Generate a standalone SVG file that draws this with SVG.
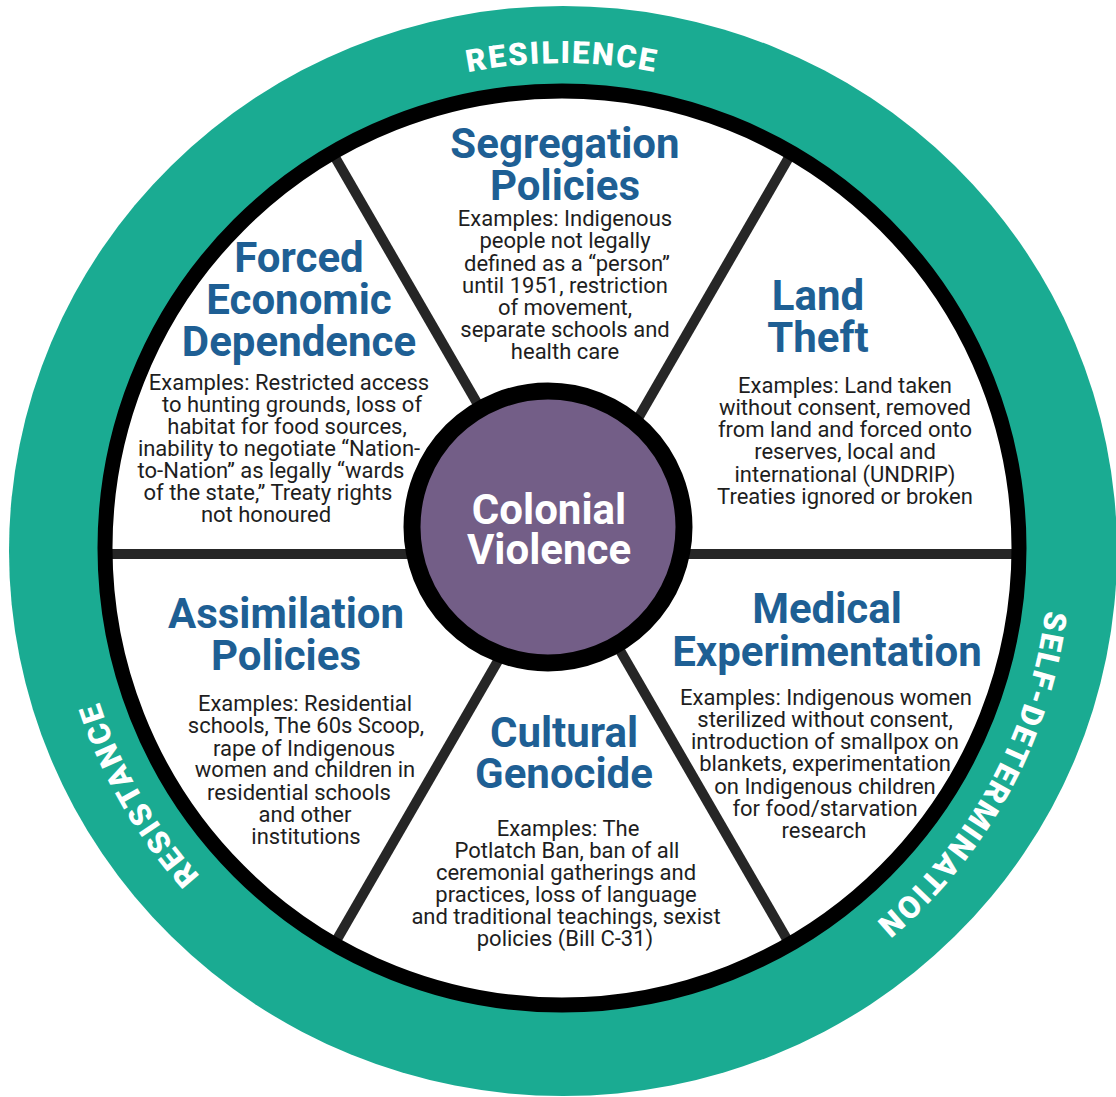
<svg xmlns="http://www.w3.org/2000/svg" width="1116" height="1097" viewBox="0 0 1116 1097">
<style>
.title{font-family:Roboto,"Liberation Sans",sans-serif;font-weight:700;font-size:42px;fill:#1e5f94;text-anchor:middle}
.body{font-family:Roboto,"Liberation Sans",sans-serif;font-weight:400;font-size:22px;fill:#1e1e1e;text-anchor:middle}
.ring{font-family:Roboto,"Liberation Sans",sans-serif;font-weight:900;font-size:31px;fill:#ffffff;letter-spacing:2px}
.center{font-family:Roboto,"Liberation Sans",sans-serif;font-weight:700;font-size:42px;fill:#ffffff;text-anchor:middle}
.spoke{stroke:#262626;stroke-width:10;fill:none}
</style>
<defs>
<path id="arcTop" d="M140.3,306.5 A487,487 0 0 1 983.7,306.5"/>
<path id="arcLeft" d="M562,1037 A487,487 0 0 1 140.3,306.5"/>
<path id="arcRight" d="M977.7,296.3 A487,487 0 0 1 573.9,1036.9"/>
</defs>
<rect width="1116" height="1097" fill="#ffffff"/>
<g id="outer-ring">
<ellipse cx="563" cy="551" rx="554" ry="545" fill="#1aab92"/>
<text class="ring"><textPath href="#arcTop" startOffset="50%" text-anchor="middle">RESILIENCE</textPath></text>
<text class="ring"><textPath href="#arcLeft" startOffset="50%" text-anchor="middle">RESISTANCE</textPath></text>
<text class="ring"><textPath href="#arcRight" startOffset="50%" text-anchor="middle">SELF-DETERMINATION</textPath></text>
</g>
<g id="wheel">
<circle cx="562" cy="548" r="457" fill="#ffffff"/>
</g>
<g id="connectors">
<line class="spoke" x1="102" y1="554" x2="1022" y2="554"/>
<line class="spoke" x1="332" y1="152" x2="562" y2="550"/>
<line class="spoke" x1="792" y1="152" x2="562" y2="550"/>
<line class="spoke" x1="332" y1="948" x2="562" y2="550"/>
<line class="spoke" x1="792" y1="948" x2="562" y2="550"/>
</g>
<circle cx="562" cy="548" r="457" fill="none" stroke="#000000" stroke-width="15"/>
<g id="segregation">
<text class="title"><tspan x="565" y="158">Segregation</tspan><tspan x="565" y="200">Policies</tspan></text>
<text class="body"><tspan x="565" y="226">Examples: Indigenous</tspan><tspan x="565" y="248">people not legally</tspan><tspan x="567" y="271">defined as a “person”</tspan><tspan x="565" y="293">until 1951, restriction</tspan><tspan x="565" y="315">of movement,</tspan><tspan x="565" y="337">separate schools and</tspan><tspan x="565" y="359">health care</tspan></text>
</g>
<g id="forced-economic-dependence">
<text class="title"><tspan x="299" y="272">Forced</tspan><tspan x="299" y="314">Economic</tspan><tspan x="299" y="356">Dependence</tspan></text>
<text class="body"><tspan x="289" y="390">Examples: Restricted access</tspan><tspan x="292" y="412">to hunting grounds, loss of</tspan><tspan x="287" y="434">habitat for food sources,</tspan><tspan x="279" y="456">inability to negotiate “Nation-</tspan><tspan x="271" y="478">to-Nation” as legally “wards</tspan><tspan x="268" y="500">of the state,” Treaty rights</tspan><tspan x="266" y="522">not honoured</tspan></text>
</g>
<g id="land-theft">
<text class="title"><tspan x="818" y="310">Land</tspan><tspan x="818" y="352">Theft</tspan></text>
<text class="body"><tspan x="845" y="393">Examples: Land taken</tspan><tspan x="845" y="415">without consent, removed</tspan><tspan x="845" y="437">from land and forced onto</tspan><tspan x="845" y="459">reserves, local and</tspan><tspan x="845" y="482">international (UNDRIP)</tspan><tspan x="845" y="504">Treaties ignored or broken</tspan></text>
</g>
<g id="medical-experimentation">
<text class="title"><tspan x="827" y="623">Medical</tspan><tspan x="827" y="666">Experimentation</tspan></text>
<text class="body"><tspan x="826" y="705">Examples: Indigenous women</tspan><tspan x="825" y="727">sterilized without consent,</tspan><tspan x="825" y="749">introduction of smallpox on</tspan><tspan x="825" y="771">blankets, experimentation</tspan><tspan x="825" y="794">on Indigenous children</tspan><tspan x="825" y="816">for food/starvation</tspan><tspan x="824" y="838">research</tspan></text>
</g>
<g id="assimilation-policies">
<text class="title"><tspan x="286" y="628">Assimilation</tspan><tspan x="286" y="670">Policies</tspan></text>
<text class="body"><tspan x="305" y="711">Examples: Residential</tspan><tspan x="306" y="733">schools, The 60s Scoop,</tspan><tspan x="304" y="756">rape of Indigenous</tspan><tspan x="305" y="777">women and children in</tspan><tspan x="299" y="800">residential schools</tspan><tspan x="305" y="822">and other</tspan><tspan x="306" y="844">institutions</tspan></text>
</g>
<g id="cultural-genocide">
<text class="title"><tspan x="564" y="747">Cultural</tspan><tspan x="564" y="788">Genocide</tspan></text>
<text class="body"><tspan x="568" y="836">Examples: The</tspan><tspan x="567" y="858">Potlatch Ban, ban of all</tspan><tspan x="566" y="880">ceremonial gatherings and</tspan><tspan x="566" y="902">practices, loss of language</tspan><tspan x="566" y="924">and traditional teachings, sexist</tspan><tspan x="565" y="946">policies (Bill C-31)</tspan></text>
</g>
<g id="colonial-violence">
<circle cx="548" cy="527" r="136" fill="#735e87" stroke="#000000" stroke-width="17"/>
<text class="center"><tspan x="549" y="524">Colonial</tspan><tspan x="549" y="564">Violence</tspan></text>
</g>
</svg>
